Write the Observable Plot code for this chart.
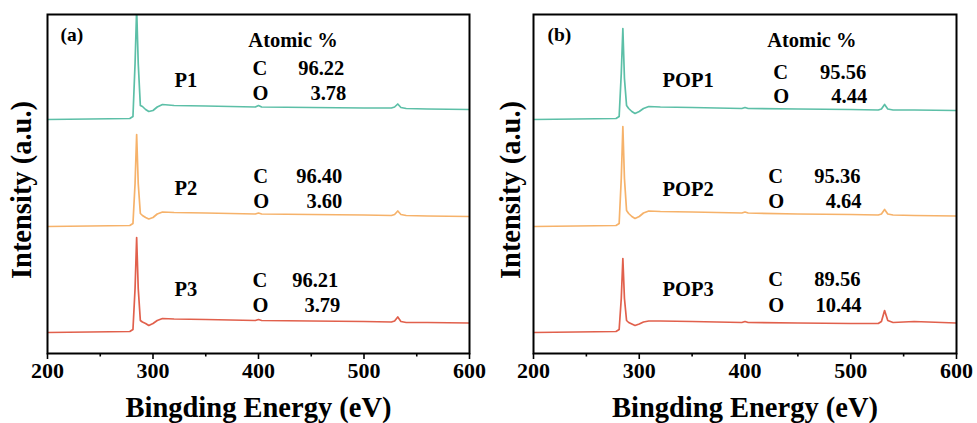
<!DOCTYPE html>
<html>
<head>
<meta charset="utf-8">
<script src="https://cdn.jsdelivr.net/npm/d3@7"></script>
<script src="https://cdn.jsdelivr.net/npm/@observablehq/plot@0.6"></script>
<style>
  body { margin: 0; background: #fff; }
  #figure { display: flex; width: 977px; height: 423px; background: #fff; }
</style>
</head>
<body>
<div id="figure"></div>
<script>
// XPS survey spectra, binding energy (eV) vs. intensity (a.u., traces stacked)
const energy = [200, 240, 278, 281, 283, 284.5, 286, 288, 290, 293, 296, 300, 304, 309, 320, 350,
                397, 400, 403, 450, 500, 526, 529, 532, 535, 540, 560, 600];

const P1 = [234, 234.5, 235, 237, 290, 345, 290, 248, 247, 244, 242, 243, 246.5, 249, 248, 247.5,
            246.5, 248, 246.5, 246, 245.5, 245.5, 246.5, 249.5, 246, 245, 244.5, 244];
const P2 = [127, 127.5, 128, 130, 170, 219, 170, 140, 138, 136, 134.5, 136, 139.5, 141.5, 141, 140.5,
            139.5, 140.5, 139.5, 139, 138.5, 138, 139, 142.5, 139, 138, 137.5, 137];
const P3 = [21, 21.5, 22, 24, 65, 116, 65, 33, 31.5, 30, 28, 30, 33, 35, 34.5, 34,
            33, 34, 33, 32.5, 32, 31.5, 32.5, 36.5, 32, 31, 31, 30.5];

const POP1 = [234, 234.5, 235, 237, 280, 325, 275, 248, 245, 242, 240, 242, 245, 247, 246.5, 246,
              245, 246, 245, 244.5, 244, 243.5, 244.5, 249, 244.5, 243.5, 243.5, 243];
const POP2 = [127, 127.5, 128, 130, 175, 227, 175, 143, 140, 137, 135, 137, 140.5, 142.5, 142, 141.5,
              140.5, 141.5, 140.5, 139.5, 139, 138.5, 139.5, 144, 139.5, 138.5, 138, 137.5];
const POP3 = [21, 21.5, 22, 24, 55, 95, 55, 33, 31, 29.5, 28, 29.5, 31.5, 32.5, 32.5, 32,
              31, 32, 31, 30.5, 30, 30, 32, 43, 33, 31, 32, 30.5];

const samplesA = ["P1", "P2", "P3"];
const carbonA = [96.22, 96.40, 96.21];
const oxygenA = [3.78, 3.60, 3.79];

const samplesB = ["POP1", "POP2", "POP3"];
const carbonB = [95.56, 95.36, 89.56];
const oxygenB = [4.44, 4.64, 10.44];

const xTicks = [200, 300, 400, 500, 600];
const xMinorTicks = [250, 350, 450, 550];
const traceColors = ["#5cbfa7", "#f6b26a", "#e1604c"];

const FONT = '"Liberation Serif", "Times New Roman", Times, serif';

function panel(cfg) {
  const { tag, names, traces, carbon, oxygen, L } = cfg;
  const rows = [];
  names.forEach((n, i) => traces[i].forEach((v, j) => rows.push({ sample: n, energy: energy[j], intensity: v })));
  const labels = names.map((n, i) => ({
    name: n,
    c: carbon[i].toFixed(2),
    o: oxygen[i].toFixed(2),
    i
  }));
  const txt = { fill: "black", fontWeight: "bold", lineAnchor: "bottom" };
  return Plot.plot({
    width: cfg.width,
    height: 423,
    marginLeft: cfg.marginLeft,
    marginRight: cfg.marginRight,
    marginTop: 14,
    marginBottom: 70,
    style: { fontFamily: FONT, fontWeight: "bold", background: "white", color: "black", overflow: "visible" },
    x: { domain: [200, 600] },
    y: { domain: [0, 339], axis: null },
    color: { domain: names, range: traceColors },
    marks: [
      Plot.line(rows, { x: "energy", y: "intensity", z: "sample", stroke: "sample", strokeWidth: 1.7, clip: true }),
      Plot.axisX({ ticks: xTicks, tickSize: 6, tickPadding: 3, fontSize: 22, fontWeight: "bold", strokeWidth: 1.6, label: null }),
      Plot.axisX({ ticks: xMinorTicks, tickSize: 3.5, tickFormat: () => "", strokeWidth: 1.6, label: null }),
      Plot.frame({ stroke: "black", strokeWidth: 2 }),
      Plot.text(["Bingding Energy (eV)"], { ...txt, frameAnchor: "bottom", textAnchor: "middle", dy: 63, fontSize: 28.5 }),
      Plot.text(["Intensity (a.u.)"], { ...txt, frameAnchor: "left", textAnchor: "middle", rotate: -90, dx: cfg.yLabelDx, dy: 6, fontSize: 28.5 }),
      Plot.text([tag], { ...txt, x: L.tagX, y: 313, textAnchor: "start", fontSize: 19.5 }),
      Plot.text(["Atomic %"], { ...txt, x: L.headX, y: 307, textAnchor: "start", fontSize: 20.5 }),
      Plot.text(labels, { ...txt, x: L.nameX, y: d => L.nameY[d.i], text: "name", textAnchor: "start", fontSize: 20.5 }),
      Plot.text(labels, { ...txt, x: d => L.elemX[d.i], y: d => L.cY[d.i], text: () => "C", textAnchor: "start", fontSize: 20.5 }),
      Plot.text(labels, { ...txt, x: d => L.elemX[d.i], y: d => L.oY[d.i], text: () => "O", textAnchor: "start", fontSize: 20.5 }),
      Plot.text(labels, { ...txt, x: d => L.cValX[d.i], y: d => L.cY[d.i], text: "c", textAnchor: "end", fontSize: 20.5 }),
      Plot.text(labels, { ...txt, x: d => L.oValX[d.i], y: d => L.oY[d.i], text: "o", textAnchor: "end", fontSize: 20.5 })
    ]
  });
}

const fig = document.getElementById("figure");

fig.append(panel({
  tag: "(a)",
  names: samplesA,
  traces: [P1, P2, P3],
  carbon: carbonA,
  oxygen: oxygenA,
  width: 489,
  marginLeft: 47,
  marginRight: 20,
  yLabelDx: -17,
  L: {
    tagX: 212.3, headX: 390.4, nameX: 320.3,
    nameY: [267, 159, 58],
    cY: [279, 171, 67],
    oY: [254, 146, 42],
    elemX: [394.2, 395.1, 394.2],
    cValX: [481.3, 479.4, 475.6],
    oValX: [483.2, 479.4, 477.5]
  }
}));

fig.append(panel({
  tag: "(b)",
  names: samplesB,
  traces: [POP1, POP2, POP3],
  carbon: carbonB,
  oxygen: oxygenB,
  width: 488,
  marginLeft: 44,
  marginRight: 21,
  yLabelDx: -14,
  L: {
    tagX: 213.2, headX: 421, nameX: 322,
    nameY: [267, 158, 58],
    cY: [274.5, 171, 68],
    oY: [250.5, 146, 42],
    elemX: [426.7, 422, 422],
    cValX: [514.6, 509.2, 509.2],
    oValX: [515.5, 510.2, 510.2]
  }
}));
</script>
</body>
</html>
